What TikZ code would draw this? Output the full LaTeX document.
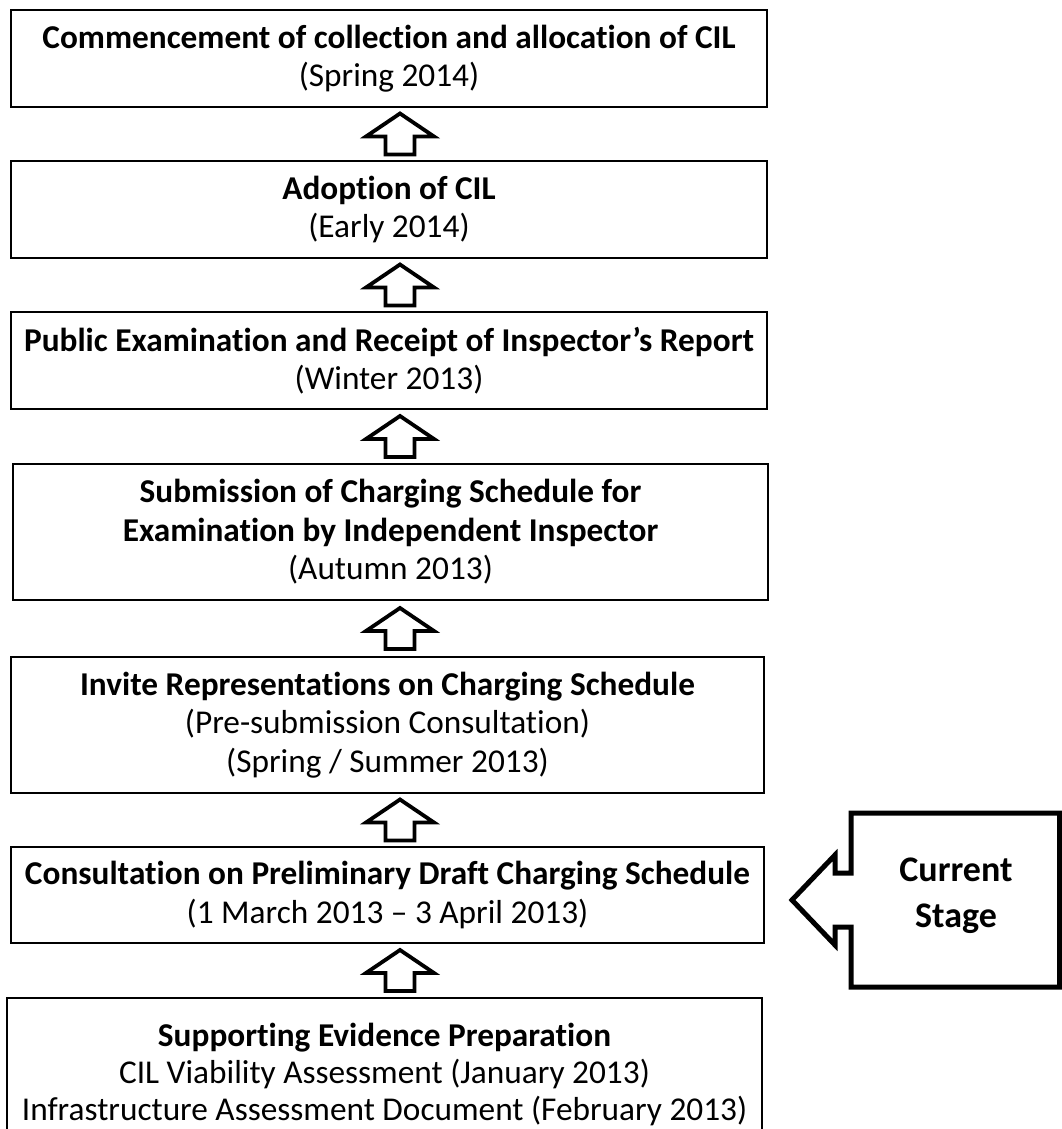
\documentclass[tikz,border=0pt]{standalone}
\usepackage{fontspec}
\setmainfont[Ligatures=NoCommon]{Carlito}
\usetikzlibrary{calc}
\begin{document}
\begin{tikzpicture}[x=1pt,y=-1pt,
  stagebox/.style={draw,line width=2pt,rectangle,inner sep=0pt,outer sep=0pt,
    align=center,font=\fontsize{33.3}{38.5}\selectfont},
  uparrow/.style={draw,line width=3.8pt,line join=miter,fill=white},
  bigarrow/.style={draw,line width=5pt,line join=miter,fill=white},
  pics/upar/.style={code={
    \path[uparrow] (0,-20.5) -- (34,2.5) -- (14.5,2.5) -- (14.5,20.5)
      -- (-14.5,20.5) -- (-14.5,2.5) -- (-34,2.5) -- cycle;}}
]
\useasboundingbox (0,0) rectangle (1062,1129);

\node[stagebox,minimum width=756,minimum height=97] (b1) at (389,58.5)
  {\textbf{Commencement of collection and allocation of CIL}\\(Spring 2014)};
\node[stagebox,minimum width=756,minimum height=97] (b2) at (389,209.5)
  {\textbf{Adoption of CIL}\\(Early 2014)};
\node[stagebox,minimum width=756,minimum height=97] (b3) at (389,360.5)
  {\textbf{Public Examination and Receipt of Inspector’s Report}\\(Winter 2013)};
\node[stagebox,minimum width=755,minimum height=136] (b4) at (390.5,532)
  {\textbf{Submission of Charging Schedule for}\\\textbf{Examination by Independent Inspector}\\(Autumn 2013)};
\node[stagebox,minimum width=753,minimum height=136] (b5) at (387.5,725)
  {\textbf{Invite Representations on Charging Schedule}\\(Pre-submission Consultation)\\(Spring / Summer 2013)};
\node[stagebox,minimum width=753,minimum height=96] (b6) at (387.5,895)
  {\textbf{Consultation on Preliminary Draft Charging Schedule}\\(1 March 2013 – 3 April 2013)};
\node[stagebox,minimum width=755,minimum height=148,text depth=0pt,
  font=\fontsize{33.3}{37}\selectfont] (b7) at (384.5,1072)
  {\textbf{Supporting Evidence Preparation}\\CIL Viability Assessment (January 2013)\\Infrastructure Assessment Document (February 2013)};

\foreach \lo/\hi in {b7/b6,b6/b5,b5/b4,b4/b3,b3/b2,b2/b1}{
  \path let \p1=($(\hi.south)!0.5!(\lo.north)$) in pic at (400,\y1) {upar};
}

\draw[bigarrow] (1059.5,813) -- (851,813) -- (851,873) -- (835,873) -- (835,855)
  -- (792,900) -- (835,945) -- (835,927) -- (851,927) -- (851,987)
  -- (1059.5,987) -- cycle;
\node[align=center,font=\fontsize{36}{46}\selectfont\bfseries] (cur) at (956,896)
  {Current\\Stage};
\end{tikzpicture}
\end{document}
